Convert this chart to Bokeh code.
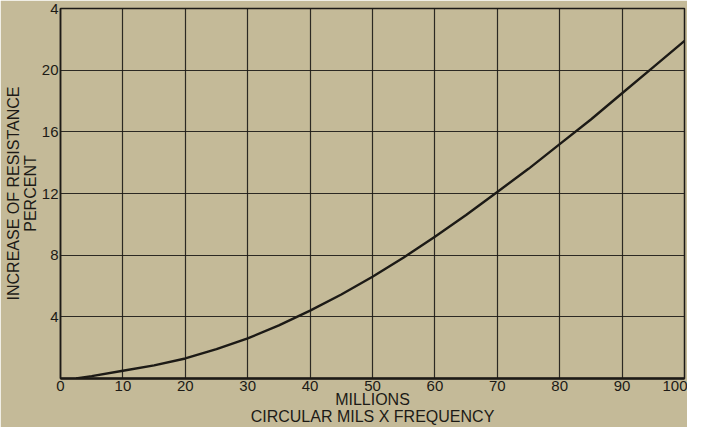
from bokeh.plotting import figure
from bokeh.models import Range1d, FixedTicker, ColumnDataSource
from bokeh.embed import file_html
from bokeh.resources import INLINE

# Data (x: circular mils x frequency, millions; y: increase of resistance, percent)
x_millions = [2.5, 5, 10, 15, 20, 25, 30, 35, 40, 45, 50, 55, 60, 65, 70, 75, 80, 85, 90, 95, 100]
increase_pct = [0.0, 0.15, 0.5, 0.85, 1.3, 1.9, 2.6, 3.45, 4.4, 5.45, 6.6, 7.85, 9.2, 10.6, 12.1, 13.6,
                15.2, 16.8, 18.5, 20.2, 21.9]

x_ticks = [0, 10, 20, 30, 40, 50, 60, 70, 80, 90, 100]
y_ticks = [4, 8, 12, 16, 20, 24]
y_tick_labels = {24: "4"}

x_title = "MILLIONS\nCIRCULAR MILS X FREQUENCY"
y_title = "INCREASE OF RESISTANCE\nPERCENT"

BG = "#c4ba98"
INK = "#1c1a16"
FONT = "Liberation Sans"

p = figure(width=687, height=427, output_backend="svg", toolbar_location=None,
           x_range=Range1d(0, 100), y_range=Range1d(0, 24),
           min_border_left=60, min_border_right=3, min_border_top=8, min_border_bottom=46)

p.background_fill_color = BG
p.border_fill_color = BG
p.outline_line_color = INK
p.outline_line_width = 1.5

src = ColumnDataSource(dict(x=x_millions, y=increase_pct))
p.line("x", "y", source=src, line_color=INK, line_width=2.4, line_join="round")

for ax in (p.xaxis[0], p.yaxis[0]):
    ax.major_tick_in = 0
    ax.major_tick_out = 0
    ax.minor_tick_in = 0
    ax.minor_tick_out = 0
    ax.axis_line_color = INK
    ax.major_label_text_color = INK
    ax.major_label_text_font = FONT
    ax.major_label_text_font_size = "15px"
    ax.axis_label_text_font = FONT
    ax.axis_label_text_font_size = "16px"
    ax.axis_label_text_font_style = "normal"
    ax.axis_label_text_color = INK
    ax.axis_label_text_line_height = 1.0

p.xaxis.ticker = FixedTicker(ticks=x_ticks)
p.yaxis.ticker = FixedTicker(ticks=y_ticks)
p.yaxis.major_label_overrides = y_tick_labels
p.xaxis.axis_line_width = 2.6
p.yaxis.axis_line_width = 1.5
p.xaxis.major_label_standoff = 2
p.yaxis.major_label_standoff = 2
p.xaxis.axis_label = x_title
p.xaxis.axis_label_standoff = -3
p.yaxis.axis_label = y_title
p.yaxis.axis_label_standoff = 0

p.xgrid.ticker = FixedTicker(ticks=x_ticks)
p.ygrid.ticker = FixedTicker(ticks=y_ticks)
for g in (p.xgrid[0], p.ygrid[0]):
    g.grid_line_color = INK
    g.grid_line_width = 1.2
    g.grid_line_alpha = 0.9

open("out.html", "w").write(file_html(p, INLINE))
